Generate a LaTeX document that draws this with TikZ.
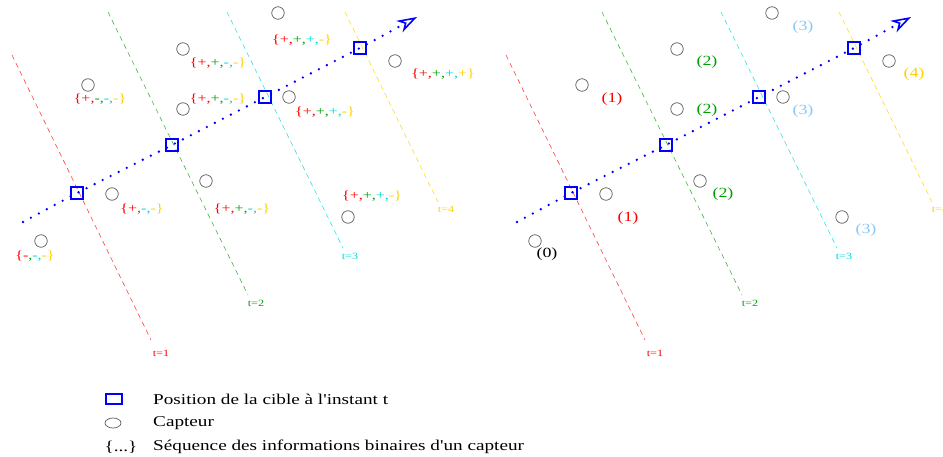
\documentclass[tikz,border=0pt]{standalone}
\usepackage{fontspec}
\usepackage{graphicx}
\setmainfont{Liberation Serif}
\usetikzlibrary{arrows.meta,shapes.geometric}
\definecolor{tred}{RGB}{255,0,0}
\definecolor{tgreen}{RGB}{0,160,0}
\definecolor{tcyan}{RGB}{0,215,215}
\definecolor{tyellow}{RGB}{255,210,0}
\definecolor{tlblue}{RGB}{135,200,250}
\definecolor{sgray}{RGB}{90,90,90}
\newcommand{\sx}[1]{\scalebox{1.28}[1]{#1}}
\newcommand{\sqf}[4]{\sx{\textcolor{tred}{\{#1,}\textcolor{tgreen}{#2,}\textcolor{tcyan}{#3,}\textcolor{tyellow}{#4\}}}}
\newcommand{\sqt}[3]{\sx{\textcolor{tred}{\{#1}\textcolor{tgreen}{,}\textcolor{tcyan}{#2,}\textcolor{tyellow}{#3\}}}}
\newcommand{\drawpanel}[2]{%
  % #1 prefix, #2 x offset
  \begin{scope}[xshift=#2]
    \coordinate (#1r0) at (12,55);  \coordinate (#1r1) at (151,340);
    \coordinate (#1g0) at (108,12); \coordinate (#1g1) at (248,295);
    \coordinate (#1c0) at (227,12); \coordinate (#1c1) at (343,248);
    \coordinate (#1y0) at (345,12); \coordinate (#1y1) at (438,202);
    \draw[tline,tred!75]    (#1r0) -- (#1r1);
    \draw[tline,tgreen!75]  (#1g0) -- (#1g1);
    \draw[tline,tcyan!80]   (#1c0) -- (#1c1);
    \draw[tline,tyellow!85] (#1y0) -- (#1y1);
    \node[tlab,text=tred]    (#1t1) at (161,353) {\sx{t=1}};
    \node[tlab,text=tgreen]  (#1t2) at (256,303) {\sx{t=2}};
    \node[tlab,text=tcyan]   (#1t3) at (350,256) {\sx{t=3}};
    \node[tlab,text=tyellow] (#1t4) at (446,209) {\sx{t=4}};
    \node[sensor] (#1s1)  at (278,13) {};
    \node[sensor] (#1s2)  at (183,49) {};
    \node[sensor] (#1s3)  at (88,85) {};
    \node[sensor] (#1s4)  at (183,109) {};
    \node[sensor] (#1s5)  at (289,97) {};
    \node[sensor] (#1s6)  at (395,61) {};
    \node[sensor] (#1s7)  at (206,181) {};
    \node[sensor] (#1s8)  at (112,194) {};
    \node[sensor] (#1s9)  at (41,241) {};
    \node[sensor] (#1s10) at (348,217) {};
    \node[target] (#1p1) at (77,193) {};
    \node[target] (#1p2) at (172,145) {};
    \node[target] (#1p3) at (265,97) {};
    \node[target] (#1p4) at (360,48) {};
    \coordinate (#1start) at (23,222);
    \coordinate (#1tip) at (417,17);
    \draw[traj,-{Stealth[open,length=20pt,width=13pt,inset=6pt,line width=1.6pt]}]
      (#1start) -- (#1p1.center) -- (#1p2.center) -- (#1p3.center) -- (#1p4.center) -- (#1tip);
  \end{scope}}
\begin{document}
\begin{tikzpicture}[x=1pt,y=-1pt,
  sensor/.style={circle,draw=sgray,line width=0.7pt,minimum size=12.5pt,inner sep=0pt},
  target/.style={rectangle,draw=blue,line width=1.8pt,minimum size=12.5pt,inner sep=0pt},
  tline/.style={line width=0.6pt,dash pattern=on 5pt off 4pt},
  traj/.style={blue,line width=2.6pt,line cap=round,dash pattern=on 0pt off 9pt},
  seq/.style={font=\fontsize{12.5}{13}\selectfont,inner sep=0pt},
  tlab/.style={font=\fontsize{9.5}{10}\selectfont,inner sep=0pt},
  num/.style={font=\fontsize{14}{15}\selectfont,inner sep=0pt},
  leg/.style={font=\fontsize{15}{16}\selectfont,inner sep=0pt,anchor=west}]
\useasboundingbox (0,0) rectangle (943,457);
\drawpanel{L}{0pt}
\drawpanel{R}{494pt}
% left panel sequences
\node[seq] (q1)  at (302,40)  {\sqf{+}{+}{+}{-}};
\node[seq] (q2)  at (218,63)  {\sqf{+}{+}{-}{-}};
\node[seq] (q3)  at (100,99)  {\sqf{+}{-}{-}{-}};
\node[seq] (q4)  at (218,99)  {\sqf{+}{+}{-}{-}};
\node[seq] (q5)  at (325,112) {\sqf{+}{+}{+}{-}};
\node[seq] (q6)  at (443,74)  {\sqf{+}{+}{+}{+}};
\node[seq] (q7)  at (142,209) {\sqt{+}{-}{-}};
\node[seq] (q8)  at (242,209) {\sqf{+}{+}{-}{-}};
\node[seq] (q9)  at (372,196) {\sqf{+}{+}{+}{-}};
\node[seq] (q10) at (35,256)  {\sqt{-}{-}{-}};
% right panel numbers
\node[num,text=tlblue]  (n1)  at (803,27)  {\sx{(3)}};
\node[num,text=tgreen]  (n2)  at (707,62)  {\sx{(2)}};
\node[num,text=tred]    (n3)  at (612,99)  {\sx{(1)}};
\node[num,text=tgreen]  (n4)  at (707,110) {\sx{(2)}};
\node[num,text=tlblue]  (n5)  at (803,111) {\sx{(3)}};
\node[num,text=tyellow] (n6)  at (914,74)  {\sx{(4)}};
\node[num,text=tgreen]  (n7)  at (723,194) {\sx{(2)}};
\node[num,text=tred]    (n8)  at (628,218) {\sx{(1)}};
\node[num,text=tlblue]  (n9)  at (866,230) {\sx{(3)}};
\node[num,text=black]   (n10) at (547,254) {\sx{(0)}};
% legend
\node[rectangle,draw=blue,line width=1.5pt,minimum width=16pt,minimum height=10pt,inner sep=0pt] (lsq) at (114,399) {};
\node[ellipse,draw=sgray,line width=0.7pt,minimum width=16pt,minimum height=10pt,inner sep=0pt] (lci) at (113,423) {};
\node[font=\fontsize{15}{16}\selectfont,inner sep=0pt] (lbr) at (121,447) {\sx{\{...\}}};
\node[leg] (t1) at (153,399) {\sx{Position de la cible à l\textquotesingle instant t}};
\node[leg] (t2) at (153,423) {\sx{Capteur}};
\node[leg] (t3) at (153,447) {\sx{Séquence des informations binaires d\textquotesingle un capteur}};
\end{tikzpicture}
\end{document}
